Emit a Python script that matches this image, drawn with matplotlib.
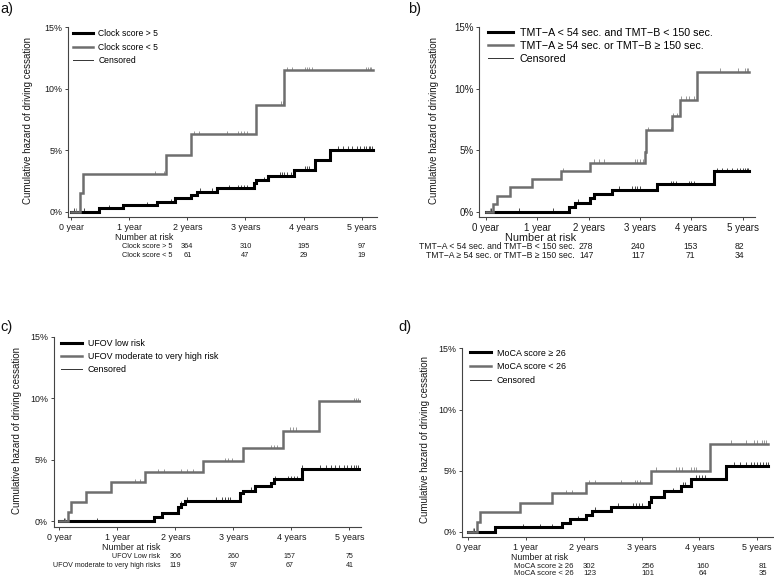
import numpy as np
import matplotlib
matplotlib.use('Agg')
import matplotlib.pyplot as plt
from matplotlib.lines import Line2D

plt.rcParams['font.family'] = ['Liberation Sans', 'DejaVu Sans']

year_ticks = [0, 1, 2, 3, 4, 5]
year_labels = ['0 year', '1 year', '2 years', '3 years', '4 years', '5 years']
pct_ticks = [0, 5, 10, 15]
pct_labels = ['0%', '5%', '10%', '15%']

# a) clock drawing
clock_hi_t = [0, 0.48, 0.90, 1.47, 1.79, 2.06, 2.16, 2.51, 3.14, 3.18, 3.39, 3.84, 4.20, 4.46, 5.20]
clock_hi_h = [0, 0.27, 0.52, 0.78, 1.10, 1.36, 1.62, 1.90, 2.30, 2.58, 2.93, 3.42, 4.20, 5.05, 5.05]
clock_lo_t = [0, 0.15, 0.21, 1.63, 2.06, 3.18, 3.67, 5.20]
clock_lo_h = [0, 1.50, 3.05, 4.65, 6.30, 8.72, 11.50, 11.50]
clock_hi_cens = [0.05, 0.22, 0.65, 1.30, 1.72, 2.22, 2.42, 2.72, 2.88, 2.93, 2.98, 3.03, 3.32, 3.60,
                 3.63, 3.67, 3.72, 3.78, 4.02, 4.06, 4.10, 4.60, 4.68, 4.76, 4.84, 4.92, 4.98, 5.04,
                 5.08, 5.12, 5.15, 5.18]
clock_lo_cens = [0.08, 1.45, 1.60, 2.12, 2.20, 2.68, 2.88, 2.93, 2.98, 3.03, 3.62, 3.65, 3.72, 3.80,
                 4.02, 4.06, 4.10, 4.14, 5.08, 5.11, 5.14, 5.17]
clock_labels = ['Clock score > 5', 'Clock score < 5']
clock_risk_hi = [364, 310, 195, 97]
clock_risk_lo = [61, 47, 29, 19]

# b) trail making test
tmt_ok_t = [0, 1.62, 1.73, 2.02, 2.10, 2.46, 3.33, 4.45, 5.12]
tmt_ok_h = [0, 0.40, 0.73, 1.09, 1.44, 1.80, 2.25, 3.28, 3.28]
tmt_bad_t = [0, 0.14, 0.21, 0.47, 0.90, 1.46, 2.02, 3.09, 3.12, 3.62, 3.77, 4.12, 5.13]
tmt_bad_h = [0, 0.65, 1.30, 1.98, 2.65, 3.30, 3.97, 4.85, 6.65, 7.75, 9.10, 11.40, 11.40]
tmt_ok_cens = [0.10, 0.65, 1.30, 1.80, 2.08, 2.60, 2.85, 2.90, 2.95, 3.00, 3.60, 3.65, 3.70, 3.95,
               4.00, 4.05, 4.50, 4.60, 4.70, 4.80, 4.88, 4.95, 5.00, 5.05, 5.08, 5.11]
tmt_bad_cens = [0.08, 1.50, 2.10, 2.20, 2.30, 2.90, 2.95, 3.00, 3.05, 3.15, 3.60, 3.65, 3.73, 3.80,
                3.90, 3.95, 4.05, 4.55, 4.90, 5.05, 5.08, 5.11]
tmt_labels = ['TMT\u2212A < 54 sec. and TMT\u2212B < 150 sec.',
              'TMT\u2212A \u2265 54 sec. or TMT\u2212B \u2265 150 sec.']
tmt_risk_ok = [278, 240, 153, 82]
tmt_risk_bad = [147, 117, 71, 34]

# c) UFOV
ufov_low_t = [0, 1.63, 1.77, 2.04, 2.09, 2.17, 3.12, 3.17, 3.37, 3.65, 3.70, 4.18, 5.18]
ufov_low_h = [0, 0.30, 0.62, 1.16, 1.38, 1.65, 2.25, 2.47, 2.85, 3.10, 3.38, 4.25, 4.25]
ufov_high_t = [0, 0.155, 0.21, 0.47, 0.90, 1.48, 2.48, 3.16, 3.85, 4.47, 5.18]
ufov_high_h = [0, 0.75, 1.57, 2.35, 3.15, 3.97, 4.85, 5.92, 7.35, 9.75, 9.75]
ufov_low_cens = [0.08, 0.65, 1.75, 2.10, 2.20, 2.70, 2.80, 2.85, 2.90, 2.95, 3.30, 3.68, 3.72, 3.95,
                 4.00, 4.05, 4.10, 4.18, 4.50, 4.60, 4.68, 4.75, 4.82, 4.90, 4.96, 5.02, 5.08, 5.12, 5.15]
ufov_high_cens = [0.10, 1.30, 1.40, 1.70, 1.80, 2.10, 2.20, 2.30, 2.85, 2.90, 2.98, 3.65, 3.70, 3.75,
                  3.97, 4.02, 4.08, 5.08, 5.12, 5.15]
ufov_labels = ['UFOV low risk', 'UFOV moderate to very high risk']
ufov_row_labels = ['UFOV Low risk', 'UFOV moderate to very high risks']
ufov_risk_low = [306, 260, 157, 75]
ufov_risk_high = [119, 97, 67, 41]

# d) MoCA
moca_hi_t = [0, 0.47, 1.63, 1.76, 2.04, 2.14, 2.48, 3.13, 3.16, 3.39, 3.68, 3.85, 4.47, 5.19]
moca_hi_h = [0, 0.36, 0.69, 1.04, 1.37, 1.72, 2.03, 2.46, 2.86, 3.30, 3.75, 4.35, 5.40, 5.40]
moca_lo_t = [0, 0.15, 0.21, 0.89, 1.46, 2.04, 3.17, 4.19, 5.19]
moca_lo_h = [0, 0.82, 1.60, 2.38, 3.13, 3.98, 5.00, 7.20, 7.20]
moca_hi_cens = [0.10, 0.95, 1.25, 1.45, 1.60, 1.90, 2.20, 2.60, 2.85, 2.90, 2.95, 3.00, 3.55, 3.72,
                3.75, 3.95, 4.00, 4.05, 4.10, 4.60, 4.70, 4.80, 4.90, 4.95, 5.00, 5.05, 5.10, 5.15, 5.18]
moca_lo_cens = [0.08, 1.70, 1.80, 2.10, 2.20, 2.65, 2.88, 2.93, 2.98, 3.25, 3.60, 3.65, 3.70, 3.85,
                3.90, 3.95, 4.55, 4.80, 4.95, 5.00, 5.08, 5.12, 5.16]
moca_labels = ['MoCA score \u2265 26', 'MoCA score < 26']
moca_row_labels = ['MoCA score \u2265 26', 'MoCA score < 26']
moca_risk_hi = [302, 256, 160, 81]
moca_risk_lo = [123, 101, 64, 35]

BLACK = '#000000'
GRAY = '#6e6e6e'
AXC = '#444444'
TXT = '#1a1a1a'

W, H = 774, 578
fig = plt.figure(figsize=(W / 100, H / 100), dpi=100)


def px_axes(l, t, r, b):
    return fig.add_axes([l / W, 1 - b / H, (r - l) / W, (b - t) / H])


def draw_panel(ax, curves, labels, row_labels, risk, xlim, ylim, fonts, risk_x, rows_y,
               nar_x, lab_x, ylab_x, leg_anchor, leg_space):
    fs_tick, fs_leg, fs_nar, fs_row = fonts
    for t, h, cens, col, lw in curves:
        ax.step(t, h, where='post', color=col, lw=lw, solid_joinstyle='miter')
        lev = np.array(h)[np.searchsorted(t, cens, side='right') - 1]
        ax.vlines(cens, lev, lev + 0.28, color=col, lw=0.5)
    ax.set_xlim(xlim)
    ax.set_ylim(ylim)
    ax.set_xticks(year_ticks)
    ax.set_xticklabels(year_labels)
    ax.set_yticks(pct_ticks)
    ax.set_yticklabels(pct_labels)
    for s in ['top', 'right']:
        ax.spines[s].set_visible(False)
    for s in ['left', 'bottom']:
        ax.spines[s].set_color(AXC)
        ax.spines[s].set_linewidth(0.8)
    ax.spines['left'].set_bounds(ylim[0], 15)
    ax.tick_params(length=2.5, width=0.7, color=AXC, pad=1.8, labelsize=fs_tick, labelcolor=TXT)
    ax.set_ylabel('Cumulative hazard of driving cessation', fontsize=7.0, color=TXT)
    ax.yaxis.set_label_coords(ylab_x, 0.5)
    handles = [Line2D([], [], color=BLACK, lw=2.2),
               Line2D([], [], color=GRAY, lw=1.8),
               Line2D([], [], color='#333333', lw=0.7)]
    ax.legend(handles, labels + ['Censored'], loc='upper left', bbox_to_anchor=leg_anchor,
              frameon=False, fontsize=fs_leg, handlelength=2.4, handletextpad=0.6,
              labelspacing=leg_space, borderaxespad=0, borderpad=0)
    tr = ax.get_xaxis_transform()
    ax.text(nar_x, rows_y[0], 'Number at risk', transform=tr, fontsize=fs_nar, color=TXT,
            ha='left', va='center')
    for k in range(2):
        ax.text(lab_x, rows_y[k + 1], row_labels[k], transform=tr, fontsize=fs_row,
                color=TXT, ha='right', va='center')
        for x, n in zip(risk_x, risk[k]):
            ax.text(x, rows_y[k + 1], str(n), transform=tr, fontsize=fs_row,
                    color=TXT, ha='center', va='center')


ax_a = px_axes(68.3, 25, 376.7, 216.7)
draw_panel(ax_a,
           [(clock_hi_t, clock_hi_h, clock_hi_cens, BLACK, 2.2),
            (clock_lo_t, clock_lo_h, clock_lo_cens, GRAY, 1.8)],
           clock_labels, clock_labels, [clock_risk_hi, clock_risk_lo],
           (-0.05, 5.26), (-0.41, 15.19), (6.4, 6.2, 6.4, 5.3), [2, 3, 4, 5],
           [-0.111, -0.158, -0.205],
           0.75, 1.75, -0.113, (0.014, 0.98), 0.55)

ax_b = px_axes(479.3, 25, 755, 216.7)
draw_panel(ax_b,
           [(tmt_ok_t, tmt_ok_h, tmt_ok_cens, BLACK, 2.2),
            (tmt_bad_t, tmt_bad_h, tmt_bad_cens, GRAY, 1.8)],
           tmt_labels, tmt_labels, [tmt_risk_ok, tmt_risk_bad],
           (-0.13, 5.24), (-0.41, 15.19), (7.0, 7.7, 7.8, 6.2), [1.95, 2.96, 3.98, 4.93],
           [-0.111, -0.158, -0.205],
           0.37, 1.73, -0.147, (0.03, 0.985), 0.28)

ax_c = px_axes(54, 333.3, 361, 526.7)
draw_panel(ax_c,
           [(ufov_low_t, ufov_low_h, ufov_low_cens, BLACK, 2.2),
            (ufov_high_t, ufov_high_h, ufov_high_cens, GRAY, 1.8)],
           ufov_labels, ufov_row_labels, [ufov_risk_low, ufov_risk_high],
           (-0.09, 5.2), (-0.46, 15.27), (6.4, 6.4, 6.4, 5.1), [2, 3, 3.97, 5],
           [-0.105, -0.155, -0.202],
           0.74, 1.74, -0.105, (0.023, 0.97), 0.47)

ax_d = px_axes(462.3, 341.7, 773.3, 536.7)
draw_panel(ax_d,
           [(moca_hi_t, moca_hi_h, moca_hi_cens, BLACK, 2.2),
            (moca_lo_t, moca_lo_h, moca_lo_cens, GRAY, 1.8)],
           moca_labels, moca_row_labels, [moca_risk_hi, moca_risk_lo],
           (-0.1, 5.28), (-0.41, 15.55), (6.4, 6.4, 6.3, 5.6), [2.1, 3.11, 4.06, 5.1],
           [-0.109, -0.154, -0.191],
           0.74, 1.83, -0.105, (0.025, 0.965), 0.55)

for lab, x, y in [('a)', 0, 9), ('b)', 408, 9), ('c)', 0, 327), ('d)', 398, 327)]:
    fig.text(x / W, 1 - y / H, lab, fontsize=10.5, ha='left', va='center', color='#111111')

fig.savefig('out.png', dpi=100)
